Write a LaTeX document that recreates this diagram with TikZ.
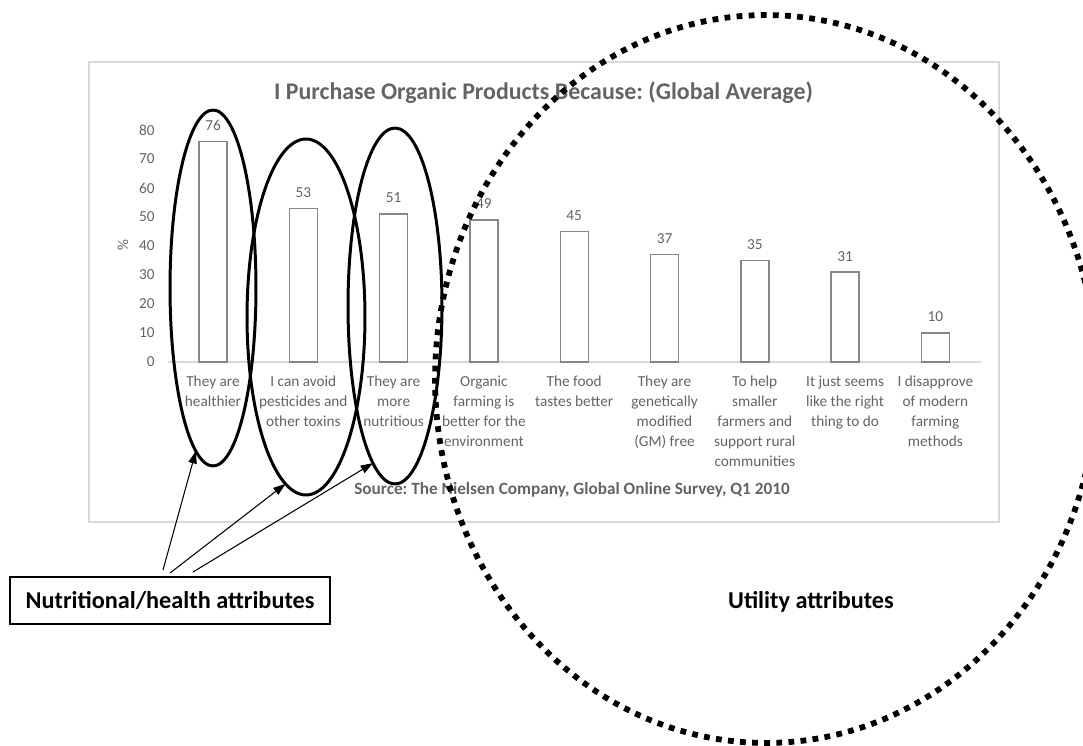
\documentclass[tikz,border=0pt]{standalone}
\usepackage{fontspec}
\setmainfont{Carlito}
\usetikzlibrary{arrows.meta,shapes.geometric}
\definecolor{txtgray}{RGB}{100,100,100}
\definecolor{framegray}{RGB}{217,217,217}
\definecolor{bargray}{RGB}{135,135,135}
\frenchspacing
\begin{document}
\begin{tikzpicture}[x=0.02cm,y=-0.02cm,
  charttitle/.style={font=\fontsize{13.6}{15}\selectfont\bfseries, text=txtgray, inner sep=0},
  axlab/.style={font=\fontsize{8.7}{10}\selectfont, text=txtgray, inner sep=0},
  catlab/.style={font=\fontsize{8.7}{11.3}\selectfont, text=txtgray, inner sep=0, align=center, anchor=north},
  srclab/.style={font=\fontsize{9.8}{11}\selectfont\bfseries, text=txtgray, inner sep=0},
  barbox/.style={draw=bargray, fill=white, line width=0.8pt},
  ell/.style={draw, ellipse, line width=1.7pt, inner sep=0, outer sep=0},
  bigell/.style={draw, ellipse, line width=3.3pt, dash pattern=on 3.3pt off 3.6pt, inner sep=0, outer sep=0},
  labelbox/.style={draw, line width=0.8pt, inner sep=0, font=\fontsize{13.8}{15}\selectfont\bfseries},
  plainlab/.style={inner sep=0, font=\fontsize{13.8}{15}\selectfont\bfseries},
  arr/.style={line width=0.6pt, -{Triangle[length=7pt,width=4.8pt]}}
]
\useasboundingbox (0,0) rectangle (1083,746);
\fill[white] (0,0) rectangle (1083,746);
% chart frame
\draw[framegray, line width=0.6pt] (89,62) rectangle (999,522);
\node[charttitle] (title) at (543.5,93) {I Purchase Organic Products Because: (Global Average)};
% y axis
\foreach \v in {0,10,...,80} {
  \node[axlab, anchor=east] (y\v) at (155,{362-2.9*\v}) {\v};
}
\node[axlab, rotate=90] (pct) at (123,245) {\%};
\draw[framegray, line width=0.8pt] (168,362) -- (981,362);
% bars
\foreach \i/\v in {0/76,1/53,2/51,3/49,4/45,5/37,6/35,7/31,8/10} {
  \pgfmathsetmacro\cx{213+90.3*\i}
  \draw[barbox] ({\cx-14},362) rectangle ({\cx+14},{362-2.9*\v});
  \node[axlab] (v\i) at (\cx,{362-2.9*\v-16}) {\v};
}
% category labels
\node[catlab] (c0) at (213,376) {They are\\healthier};
\node[catlab] (c1) at (303.3,376) {I can avoid\\pesticides and\\other toxins};
\node[catlab] (c2) at (393.6,376) {They are\\more\\nutritious};
\node[catlab] (c3) at (483.9,376) {Organic\\farming is\\better for the\\environment};
\node[catlab] (c4) at (574.2,376) {The food\\tastes better};
\node[catlab] (c5) at (664.5,376) {They are\\genetically\\modified\\(GM) free};
\node[catlab] (c6) at (754.8,376) {To help\\smaller\\farmers and\\support rural\\communities};
\node[catlab] (c7) at (845.1,376) {It just seems\\like the right\\thing to do};
\node[catlab] (c8) at (935.4,376) {I disapprove\\of modern\\farming\\methods};
\node[srclab] (src) at (572,490) {Source: The Nielsen Company, Global Online Survey, Q1 2010};
% solid ellipses
\node[ell, minimum width=1.72cm, minimum height=7.12cm] (e1) at (213,288) {};
\node[ell, minimum width=2.36cm, minimum height=7.12cm] (e2) at (306,317) {};
\node[ell, minimum width=1.88cm, minimum height=7.12cm] (e3) at (395,306) {};
% dotted ellipse
\node[bigell, minimum width=13.24cm, minimum height=14.56cm] (big) at (766,379) {};
% labels
\node[labelbox, minimum width=6.4cm, minimum height=0.94cm] (nut) at (170,600.5) {Nutritional/health attributes};
\node[plainlab] (util) at (811,602) {Utility attributes};
% arrows
\coordinate (s1) at (163,570);
\coordinate (s2) at (170,573);
\coordinate (s3) at (193,572);
\draw[arr] (s1) -- (e1.264.5);
\draw[arr] (s2) -- (e2.263);
\draw[arr] (s3) -- (e3.262.5);
\end{tikzpicture}
\end{document}
